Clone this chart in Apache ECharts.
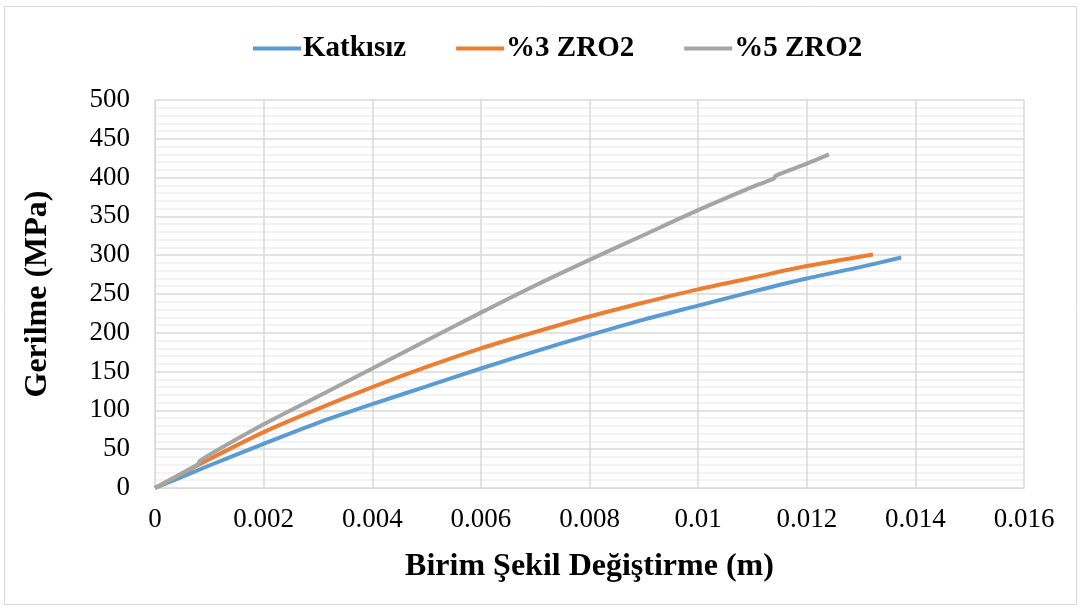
<!DOCTYPE html>
<html><head><meta charset="utf-8">
<script src="https://cdn.jsdelivr.net/npm/echarts@6/dist/echarts.min.js"></script>
<style>html,body{margin:0;padding:0;background:#fff}#c{width:1081px;height:610px}</style>
</head><body><div id="c"></div>
<script>
var seriesNames = ['Katkısız', '%3 ZRO2', '%5 ZRO2'];
var katkisiz = [[0,0],[0.001,29],[0.002,57],[0.003,84],[0.004,108],[0.005,131],[0.006,154],[0.007,176],[0.008,197],[0.009,217],[0.01,235],[0.011,253],[0.012,270],[0.013,285],[0.01374,297]];
var zro3 = [[0,0],[0.001,37],[0.002,72],[0.003,102],[0.004,130],[0.005,156],[0.006,180],[0.007,201],[0.008,221],[0.009,239],[0.01,256],[0.011,271],[0.012,286],[0.01322,301]];
var zro5 = [[0,0],[0.0008,31],[0.00082,35],[0.002,82],[0.003,118],[0.004,154],[0.005,190],[0.006,226],[0.007,261],[0.008,294],[0.009,326],[0.01,358],[0.011,388],[0.0114,399],[0.01142,402],[0.012,418],[0.01241,430]];
var xTickLabels = ['0','0.002','0.004','0.006','0.008','0.01','0.012','0.014','0.016'];
var colors = ['#5B9BD5','#ED7D31','#A5A5A5'];
var font = 'Liberation Serif, Times New Roman, serif';
var chart = echarts.init(document.getElementById('c'));
var dataSets = [katkisiz, zro3, zro5];
chart.setOption({
  backgroundColor:'#fff',
  animation:false,
  graphic:[{type:'rect',shape:{x:4.5,y:6.5,width:1072,height:598},style:{fill:'none',stroke:'#d9d9d9',lineWidth:1}}],
  legend:{top:29,left:248,itemGap:50,itemWidth:48,itemHeight:4,icon:'rect',
    textStyle:{fontFamily:font,fontWeight:'bold',fontSize:29,color:'#000',padding:[0,0,0,-3]},
    data:seriesNames},
  grid:{left:155,right:57,top:100,bottom:122},
  xAxis:{type:'value',min:0,max:0.016,interval:0.002,
    name:'Birim Şekil Değiştirme (m)',nameLocation:'middle',nameGap:63,
    nameTextStyle:{fontFamily:font,fontWeight:'bold',fontSize:32,color:'#000'},
    axisLine:{show:true,lineStyle:{color:'#d9d9d9'}},axisTick:{show:false},
    axisLabel:{fontFamily:font,fontSize:27,color:'#000',margin:18,
      formatter:function(v){return xTickLabels[Math.round(v/0.002)];}},
    splitLine:{show:true,lineStyle:{color:'#d9d9d9',width:1.5}}},
  yAxis:{type:'value',min:0,max:500,interval:50,
    name:'Gerilme (MPa)',nameLocation:'middle',nameGap:101,
    nameTextStyle:{fontFamily:font,fontWeight:'bold',fontSize:32,color:'#000'},
    axisLine:{show:true,lineStyle:{color:'#d9d9d9'}},axisTick:{show:false},
    axisLabel:{fontFamily:font,fontSize:27,color:'#000',margin:25},
    splitLine:{show:true,lineStyle:{color:'#d9d9d9',width:1.5}},
    minorTick:{show:false,splitNumber:5},
    minorSplitLine:{show:true,lineStyle:{color:'#efefef',width:1.5}}},
  series:dataSets.map(function(d,i){return {name:seriesNames[i],type:'line',data:d,smooth:0.25,showSymbol:false,
    lineStyle:{color:colors[i],width:4},itemStyle:{color:colors[i]}};})
});
</script></body></html>
